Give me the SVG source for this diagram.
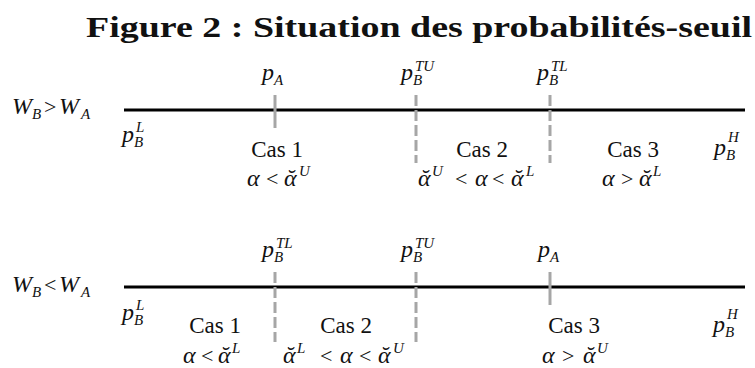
<svg xmlns="http://www.w3.org/2000/svg" width="755" height="368" viewBox="0 0 755 368">
<style>
.title{font-family:"Liberation Serif","DejaVu Serif",serif;font-weight:bold;font-size:30px;fill:#111}
.t{font-family:"Liberation Serif",serif;font-size:23px;fill:#111}
.m{font-family:"Liberation Serif",serif;font-style:italic;font-size:24px;fill:#111}
.u{font-family:"Liberation Serif",serif;font-size:22px;fill:#111}
.s{font-size:15px}
.axis{stroke:#000;stroke-width:3}
.tick{stroke:#a6a6a6;stroke-width:3}
.dash{stroke:#a6a6a6;stroke-width:3;stroke-dasharray:11 4}
</style>
<rect width="755" height="368" fill="#fff"/>
<text class="title" x="86" y="37" textLength="666" lengthAdjust="spacingAndGlyphs">Figure 2 : Situation des probabilités-seuil</text>

<g id="connectors">
<line class="axis" x1="124" y1="110" x2="745" y2="110"/>
<line class="tick" x1="275" y1="95" x2="275" y2="128"/>
<line class="dash" x1="416" y1="95" x2="416" y2="163"/>
<line class="dash" x1="550" y1="95" x2="550" y2="163"/>
<line class="axis" x1="124" y1="287" x2="745" y2="287"/>
<line class="dash" x1="275" y1="272" x2="275" y2="342"/>
<line class="dash" x1="416" y1="272" x2="416" y2="342"/>
<line class="tick" x1="550" y1="272" x2="550" y2="305"/>
</g>

<g id="row1">
<text class="m" x="12" y="114">W</text><text class="m s" x="32" y="119">B</text><text class="u" x="44" y="114">&gt;</text><text class="m" x="59" y="114">W</text><text class="m s" x="81" y="119">A</text>
<text class="m" x="122" y="142">p</text><text class="m s" x="134" y="147">B</text><text class="m s" x="136" y="132">L</text>
<text class="m" x="262" y="80">p</text><text class="m s" x="274" y="85">A</text>
<text class="m" x="401" y="80">p</text><text class="m s" x="413" y="85">B</text><text class="m s" x="415" y="71">TU</text>
<text class="m" x="537" y="80">p</text><text class="m s" x="549" y="85">B</text><text class="m s" x="551" y="71">TL</text>
<text class="m" x="714" y="155">p</text><text class="m s" x="726" y="160">B</text><text class="m s" x="728" y="142">H</text>
<text class="t" x="277" y="157" text-anchor="middle">Cas 1</text>
<text class="t" x="482" y="157" text-anchor="middle">Cas 2</text>
<text class="t" x="633" y="157" text-anchor="middle">Cas 3</text>
<text class="m" x="247" y="186">α</text><text class="u" x="266" y="186">&lt;</text><text class="m" x="284" y="186">ᾰ</text><text class="m s" x="299" y="176">U</text>
<text class="m" x="418" y="186">ᾰ</text><text class="m s" x="432" y="176">U</text><text class="u" x="455" y="186">&lt;</text><text class="m" x="475" y="186">α</text><text class="u" x="492" y="186">&lt;</text><text class="m" x="511" y="186">ᾰ</text><text class="m s" x="526" y="176">L</text>
<text class="m" x="602" y="186">α</text><text class="u" x="621" y="186">&gt;</text><text class="m" x="639" y="186">ᾰ</text><text class="m s" x="653" y="176">L</text>
</g>

<g id="row2">
<text class="m" x="12" y="292">W</text><text class="m s" x="32" y="297">B</text><text class="u" x="44" y="292">&lt;</text><text class="m" x="59" y="292">W</text><text class="m s" x="81" y="297">A</text>
<text class="m" x="122" y="320">p</text><text class="m s" x="134" y="325">B</text><text class="m s" x="136" y="310">L</text>
<text class="m" x="262" y="257">p</text><text class="m s" x="274" y="262">B</text><text class="m s" x="276" y="248">TL</text>
<text class="m" x="401" y="257">p</text><text class="m s" x="413" y="262">B</text><text class="m s" x="415" y="248">TU</text>
<text class="m" x="538" y="257">p</text><text class="m s" x="550" y="262">A</text>
<text class="m" x="713" y="332">p</text><text class="m s" x="725" y="337">B</text><text class="m s" x="727" y="319">H</text>
<text class="t" x="215" y="333" text-anchor="middle">Cas 1</text>
<text class="t" x="346" y="333" text-anchor="middle">Cas 2</text>
<text class="t" x="574" y="333" text-anchor="middle">Cas 3</text>
<text class="m" x="183" y="363">α</text><text class="u" x="201" y="363">&lt;</text><text class="m" x="218" y="363">ᾰ</text><text class="m s" x="232" y="353">L</text>
<text class="m" x="283" y="363">ᾰ</text><text class="m s" x="297" y="353">L</text><text class="u" x="320" y="363">&lt;</text><text class="m" x="340" y="363">α</text><text class="u" x="359" y="363">&lt;</text><text class="m" x="378" y="363">ᾰ</text><text class="m s" x="393" y="353">U</text>
<text class="m" x="542" y="363">α</text><text class="u" x="562" y="363">&gt;</text><text class="m" x="583" y="363">ᾰ</text><text class="m s" x="597" y="353">U</text>
</g>
</svg>
